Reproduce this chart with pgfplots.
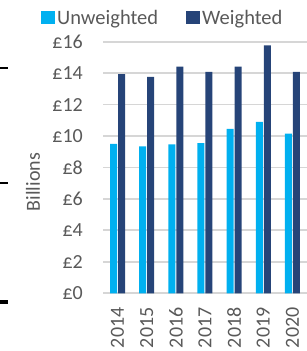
\documentclass[border=0pt]{standalone}
\usepackage{pgfplots}
\pgfplotsset{compat=1.18}
\usepackage{fontspec}
\setmainfont{Carlito}
\definecolor{unw}{HTML}{00B0F0}
\definecolor{wei}{HTML}{264478}
\definecolor{txt}{HTML}{595959}
\definecolor{gridgray}{HTML}{D6D6D6}
\begin{document}
\begin{tikzpicture}
\useasboundingbox (0bp,0bp) rectangle (307bp,351bp);
\fill[black] (0bp,282bp) rectangle (8bp,284bp);
\fill[black] (0bp,166.5bp) rectangle (8bp,168.5bp);
\fill[black] (0bp,47bp) rectangle (8bp,51bp);
\begin{axis}[
  at={(103bp,57.7bp)}, anchor=south west,
  scale only axis, width=204bp, height=251.6bp,
  ymin=0, ymax=16,
  xmin=-0.5, xmax=6.5,
  clip=false,
  ytick={0,2,...,16},
  yticklabels={£0,£2,£4,£6,£8,£10,£12,£14,£16},
  xtick={0,...,6},
  xticklabels={2014,2015,2016,2017,2018,2019,2020},
  major tick length=0pt,
  axis line style={draw=none},
  tick label style={font=\fontsize{20bp}{24bp}\selectfont, text=txt, inner sep=0pt},
  /pgf/number format/assume math mode=true,
  x tick label style={rotate=90, anchor=east},
  xticklabel shift=14bp,
  yticklabel shift=20bp,
  ylabel={Billions},
  every axis y label/.style={at={(axis description cs:0,0.442)}, xshift=-70bp, anchor=center, rotate=90, font=\fontsize{20bp}{24bp}\selectfont, text=txt},
  legend columns=2,
  legend style={draw=none, fill=none, at={(axis description cs:0,1)}, anchor=west, xshift=-62bp, yshift=23.7bp,
    font=\fontsize{20.5bp}{24bp}\selectfont, text=txt, inner sep=0pt, nodes={inner sep=2bp},
    /tikz/every even column/.append style={column sep=26bp}},
  legend image code/.code={\fill[#1] (0bp,-6.5bp) rectangle (14bp,6.5bp);},
]
\pgfplotsinvokeforeach{0,2,4,6,8,10,12,14,16}{
  \fill[gridgray] ([yshift=-0.9bp]axis cs:-0.5,#1) rectangle ([yshift=0.9bp]axis cs:6.5,#1);
}
\addplot[ybar, bar width=7bp, fill=unw, draw=none, bar shift=-4bp] coordinates {(0,9.51) (1,9.34) (2,9.47) (3,9.55) (4,10.45) (5,10.9) (6,10.15)};
\addplot[ybar, bar width=7bp, fill=wei, draw=none, bar shift=4bp] coordinates {(0,13.94) (1,13.76) (2,14.42) (3,14.08) (4,14.42) (5,15.77) (6,14.08)};
\legend{Unweighted,Weighted}
\end{axis}
\end{tikzpicture}
\end{document}
